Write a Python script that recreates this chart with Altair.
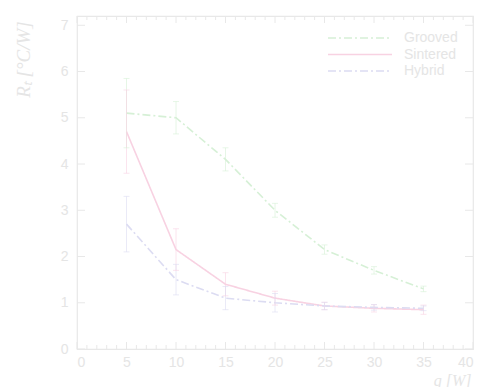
import altair as alt
import pandas as pd

# Thermal resistance vs. heat load for three wick types
q_values = [5, 10, 15, 20, 25, 30, 35]
grooved = [5.1, 5.0, 4.1, 3.0, 2.15, 1.7, 1.3]
sintered = [4.7, 2.15, 1.4, 1.1, 0.93, 0.88, 0.85]
hybrid = [2.7, 1.5, 1.1, 1.0, 0.93, 0.9, 0.88]

grooved_err = [0.75, 0.35, 0.25, 0.15, 0.1, 0.08, 0.06]
sintered_err = [0.9, 0.45, 0.25, 0.15, 0.08, 0.08, 0.1]
hybrid_err = [0.6, 0.33, 0.25, 0.2, 0.08, 0.06, 0.05]

series_names = ["Grooved", "Sintered", "Hybrid"]
series_colors = ["#d6f0d6", "#f8d2e2", "#dcdcf2"]
series_dash = [[8, 3, 2, 3], [1, 0], [8, 3, 2, 3]]

x_major = [0, 5, 10, 15, 20, 25, 30, 35, 40]
x_minor = [v for v in range(0, 41) if v % 5 != 0]
y_major = [0, 1, 2, 3, 4, 5, 6, 7]

rows = []
for name, vals, errs in zip(series_names, [grooved, sintered, hybrid],
                            [grooved_err, sintered_err, hybrid_err]):
    for q, v, e in zip(q_values, vals, errs):
        rows.append({"q": q, "Rt": v, "lo": v - e, "hi": v + e, "series": name})
df = pd.DataFrame(rows)

W, H = 396, 333
TXT = "#e5e5e5"
FRAME = "#e8e8e8"

xs = alt.Scale(domain=[0, 40], nice=False, zero=False)
ys = alt.Scale(domain=[0, 7.2], nice=False, zero=False)
color = alt.Color("series:N", scale=alt.Scale(domain=series_names, range=series_colors),
                  legend=None)
dash = alt.StrokeDash("series:N", scale=alt.Scale(domain=series_names, range=series_dash),
                      legend=None)

lines = alt.Chart(df).mark_line(strokeWidth=1.6).encode(
    x=alt.X("q:Q", scale=xs,
            axis=alt.Axis(values=x_major, title="q [W]", titleX=W - 2, titleY=23,
                          titleAlign="right", titleFont="Liberation Serif",
                          titleFontStyle="italic", titleFontWeight="normal",
                          titleFontSize=16, titleColor=TXT, labelFont="Liberation Sans",
                          labelFontSize=14, labelColor=TXT, labelPadding=6,
                          ticks=False, domain=False, grid=False)),
    y=alt.Y("Rt:Q", scale=ys,
            axis=alt.Axis(values=y_major, title="Rₜ [°C/W]", titleX=-54, titleY=43,
                          titleAngle=-90, titleAlign="center", titleBaseline="middle",
                          titleFont="Liberation Serif", titleFontStyle="italic",
                          titleFontWeight="normal", titleFontSize=19, titleColor=TXT,
                          labelFont="Liberation Sans", labelFontSize=14, labelColor=TXT,
                          labelPadding=9, ticks=False, domain=False, grid=False)),
    color=color,
    strokeDash=dash,
)

bars = alt.Chart(df).mark_rule(strokeWidth=1, opacity=0.6).encode(
    x=alt.X("q:Q", scale=xs), y=alt.Y("lo:Q", scale=ys), y2="hi:Q",
    color=color,
)
caps_lo = alt.Chart(df).mark_tick(orient="horizontal", size=6, thickness=1, opacity=0.6).encode(
    x=alt.X("q:Q", scale=xs), y=alt.Y("lo:Q", scale=ys),
    color=color,
)
caps_hi = caps_lo.encode(y=alt.Y("hi:Q", scale=ys))

# legend entries in the upper right corner
legend_layers = []
for i, (name, col, dsh) in enumerate(zip(series_names, series_colors, series_dash)):
    ly = 22 + i * 16.5
    entry = alt.Chart(pd.DataFrame({"series": [name]}))
    legend_layers.append(entry.mark_rule(color=col, strokeWidth=1.6, strokeDash=dsh).encode(
        x=alt.value(251), x2=alt.value(315), y=alt.value(ly)))
    legend_layers.append(entry.mark_text(align="left", baseline="middle", font="Liberation Sans",
                                         fontSize=14, color=TXT).encode(
        x=alt.value(327), y=alt.value(ly), text="series:N"))

# inward ticks on all four sides
xmaj = pd.DataFrame({"v": x_major})
xmin = pd.DataFrame({"v": x_minor})
ymaj = pd.DataFrame({"v": y_major})
tick_layers = []
for data, L in [(xmaj, 7), (xmin, 4)]:
    base = alt.Chart(data).mark_rule(color=FRAME, strokeWidth=1)
    tick_layers.append(base.encode(x=alt.X("v:Q", scale=xs), y=alt.value(H), y2=alt.value(H - L)))
    tick_layers.append(base.encode(x=alt.X("v:Q", scale=xs), y=alt.value(0), y2=alt.value(L)))
ybase = alt.Chart(ymaj).mark_rule(color=FRAME, strokeWidth=1)
tick_layers.append(ybase.encode(y=alt.Y("v:Q", scale=ys), x=alt.value(0), x2=alt.value(8)))
tick_layers.append(ybase.encode(y=alt.Y("v:Q", scale=ys), x=alt.value(W), x2=alt.value(W - 8)))

chart = alt.layer(lines, bars, caps_lo, caps_hi, *legend_layers, *tick_layers).properties(
    width=W, height=H,
    padding={"left": 77, "top": 16, "right": 4, "bottom": 38},
    autosize=alt.AutoSizeParams(type="none"),
    background="white",
).configure_view(stroke=FRAME, strokeWidth=1.2)

chart.save("out.html", embed_options={"renderer": "svg", "actions": False})
